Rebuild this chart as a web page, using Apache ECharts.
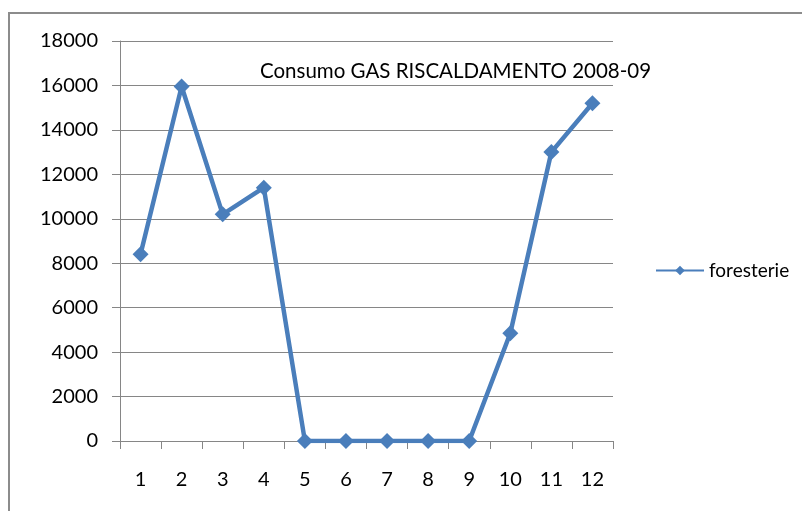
<!DOCTYPE html>
<html>
<head>
<meta charset="utf-8">
<script src="https://cdn.jsdelivr.net/npm/echarts@6/dist/echarts.min.js"></script>
<style>
  html,body{margin:0;padding:0;background:#fff}
  #chart{width:802px;height:511px}
</style>
</head>
<body>
<div id="chart"></div>
<script>
var months = ['1','2','3','4','5','6','7','8','9','10','11','12'];
var foresterie = [8400, 15950, 10200, 11400, 0, 0, 0, 0, 0, 4850, 13000, 15200];
var yTicks = [0, 2000, 4000, 6000, 8000, 10000, 12000, 14000, 16000, 18000];

var grey = '#868686', blue = '#4a7ebb';
var font = 'Lato, "Open Sans", sans-serif';

var ec = echarts.init(document.getElementById('chart'));
ec.setOption({
  animation: false,
  graphic: [{
    type: 'rect',
    shape: {x: 9, y: 13, width: 900, height: 600},
    style: {fill: 'none', stroke: '#8c8c8c', lineWidth: 2},
    silent: true
  }],
  title: {
    text: 'Consumo GAS RISCALDAMENTO 2008-09',
    left: 255, top: 56,
    textStyle: {fontFamily: font, fontSize: 20.5, fontWeight: 'normal', color: '#000'}
  },
  legend: {
    data: ['foresterie'],
    left: 650, top: 256,
    itemWidth: 48, itemHeight: 12, itemGap: 5,
    textStyle: {fontFamily: font, fontSize: 19, color: '#000'}
  },
  grid: {left: 120, top: 41, right: 189, bottom: 70},
  xAxis: {
    type: 'category',
    data: months,
    boundaryGap: true,
    axisLine: {lineStyle: {color: grey, width: 1}},
    axisTick: {show: true, length: 8, lineStyle: {color: grey}},
    axisLabel: {fontFamily: font, fontSize: 20, color: '#000', margin: 29}
  },
  yAxis: {
    type: 'value',
    min: yTicks[0], max: yTicks[yTicks.length - 1], interval: 2000,
    axisLine: {show: true, lineStyle: {color: grey, width: 1}},
    axisTick: {show: true, length: 8, lineStyle: {color: grey}},
    splitLine: {lineStyle: {color: grey, width: 1}},
    axisLabel: {fontFamily: font, fontSize: 20, color: '#000', margin: 22,
      formatter: function(v){ return String(v); }}
  },
  series: [{
    name: 'foresterie',
    type: 'line',
    data: foresterie,
    symbol: 'diamond',
    symbolSize: 16,
    lineStyle: {color: blue, width: 4.5},
    itemStyle: {color: blue}
  }]
});
</script>
</body>
</html>
